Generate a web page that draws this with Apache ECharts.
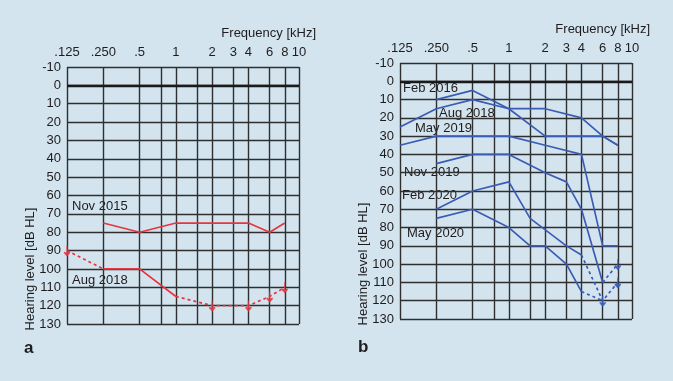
<!DOCTYPE html>
<html>
<head>
<meta charset="utf-8">
<script src="https://cdn.jsdelivr.net/npm/echarts@6/dist/echarts.min.js"></script>
<style>
  html, body { margin: 0; padding: 0; background: #d3e4ef; }
  #chart { width: 673px; height: 381px; }
</style>
</head>
<body>
<div id="chart"></div>
<script>
// frequency ticks (kHz); right edge of the grid carries the "10" label
var freqGrid = [0.125, 0.25, 0.5, 0.75, 1, 1.5, 2, 3, 4, 6, 8, 10.5];
var freqTicks = [0.125, 0.25, 0.5, 1, 2, 3, 4, 6, 8, 10.5];
var freqLabels = ['.125', '.250', '.5', '1', '2', '3', '4', '6', '8', '10'];

// panel a (red)
var nov2015 = [[0.25, 75], [0.5, 80], [1, 75], [2, 75], [4, 75], [6, 80], [8, 75]];
var aug2018a = [[0.25, 100], [0.5, 100], [1, 115]];
var aug2018aLowNR = [[0.125, 90], [0.25, 100]];
var aug2018aHighNR = [[1, 115], [2, 120], [4, 120], [6, 115], [8, 110]];
var noRespA = [[0.125, 90], [2, 120], [4, 120], [6, 115], [8, 110]];

// panel b (blue)
var feb2016 = [[0.25, 10], [0.5, 5], [1, 15], [2, 15], [4, 20], [6, 30], [8, 35]];
var aug2018b = [[0.125, 25], [0.25, 15], [0.5, 10], [1, 15], [2, 30], [4, 30], [6, 30], [8, 35]];
var may2019 = [[0.125, 35], [0.25, 30], [0.5, 30], [1, 30], [2, 35], [4, 40], [6, 90], [8, 90]];
var nov2019 = [[0.25, 45], [0.5, 40], [1, 40], [2, 50], [3, 55], [4, 70], [6, 110]];
var nov2019NR = [[6, 110], [8, 100]];
var feb2020 = [[0.25, 70], [0.5, 60], [1, 55], [1.5, 75], [3, 90], [4, 95]];
var feb2020NR = [[4, 95], [6, 120], [8, 110]];
var may2020 = [[0.25, 75], [0.5, 70], [1, 80], [1.5, 90], [2, 90], [3, 100], [4, 115]];
var may2020NR = [[4, 115], [6, 120]];
var noRespB = [[6, 120], [8, 100], [8, 110]];

var RED = '#e8343f';
var BLUE = '#3b5cb5';
var TXT = '#1e1c1d';
var GRIDC = '#2f2f2f';
var FONT = '"Liberation Sans", Arial, sans-serif';
var ARROW = 'path://M0,0 L0,9 M-3,6 L0,9 L3,6';

function xAxisFor(idx) {
  return {
    type: 'log', logBase: 2, gridIndex: idx,
    min: 0.125, max: 10.5, position: 'top',
    axisLine: { show: false },
    axisTick: { show: false, customValues: freqGrid },
    axisLabel: {
      customValues: freqTicks, margin: 8, fontSize: 13, color: TXT, fontFamily: FONT,
      formatter: function (v) {
        for (var i = 0; i < freqTicks.length; i++) {
          if (Math.abs(freqTicks[i] - v) < 1e-6) return freqLabels[i];
        }
        return '';
      }
    },
    splitLine: { show: true, lineStyle: { color: GRIDC, width: 1.4 } }
  };
}
function yAxisFor(idx) {
  return {
    type: 'value', gridIndex: idx, inverse: true,
    min: -10, max: 130, interval: 10,
    axisLine: { show: false }, axisTick: { show: false },
    axisLabel: { margin: 6, fontSize: 13, color: TXT, fontFamily: FONT },
    splitLine: { show: true, lineStyle: { color: GRIDC, width: 1.4 } }
  };
}
function solid(data, color, idx, zeroLine) {
  var s = {
    type: 'line', data: data, xAxisIndex: idx, yAxisIndex: idx,
    showSymbol: false, symbol: 'none', silent: true, animation: false,
    lineStyle: { color: color, width: 1.7 }
  };
  if (zeroLine) {
    s.markLine = {
      silent: true, symbol: 'none', label: { show: false },
      lineStyle: { color: '#1a1a1a', width: 2.3, type: 'solid' },
      data: [{ yAxis: 0 }]
    };
  }
  return s;
}
function dotted(data, color, idx) {
  return {
    type: 'line', data: data, xAxisIndex: idx, yAxisIndex: idx,
    showSymbol: false, symbol: 'none', silent: true, animation: false,
    lineStyle: { color: color, width: 1.7, type: [3, 3] }
  };
}
function arrows(data, color, idx) {
  return {
    type: 'scatter', data: data, xAxisIndex: idx, yAxisIndex: idx,
    symbol: ARROW, symbolSize: [6, 10], silent: true, animation: false,
    itemStyle: { color: color, borderColor: color, borderWidth: 1.5 }
  };
}
function txt(x, y, text, extra) {
  var st = { text: text, fill: TXT, fontSize: 13, fontFamily: FONT, align: 'left', verticalAlign: 'middle' };
  for (var k in extra) st[k] = extra[k];
  return { type: 'text', x: x, y: y, silent: true, style: st };
}

var chart = echarts.init(document.getElementById('chart'));
chart.setOption({
  backgroundColor: '#d3e4ef',
  animation: false,
  grid: [
    { left: 67, top: 67, width: 232, height: 257 },
    { left: 400, top: 63, width: 232, height: 256 }
  ],
  xAxis: [xAxisFor(0), xAxisFor(1)],
  yAxis: [yAxisFor(0), yAxisFor(1)],
  series: [
    solid(nov2015, RED, 0, true),
    solid(aug2018a, RED, 0),
    dotted(aug2018aLowNR, RED, 0),
    dotted(aug2018aHighNR, RED, 0),
    arrows(noRespA, RED, 0),

    solid(feb2016, BLUE, 1, true),
    solid(aug2018b, BLUE, 1),
    solid(may2019, BLUE, 1),
    solid(nov2019, BLUE, 1),
    dotted(nov2019NR, BLUE, 1),
    solid(feb2020, BLUE, 1),
    dotted(feb2020NR, BLUE, 1),
    solid(may2020, BLUE, 1),
    dotted(may2020NR, BLUE, 1),
    arrows(noRespB, BLUE, 1)
  ],
  graphic: [
    txt(316, 33, 'Frequency [kHz]', { align: 'right' }),
    txt(650, 29, 'Frequency [kHz]', { align: 'right' }),
    { type: 'text', x: 30, y: 269, rotation: Math.PI / 2, silent: true,
      style: { text: 'Hearing level [dB HL]', fill: TXT, fontSize: 13, fontFamily: FONT, align: 'center', verticalAlign: 'middle' } },
    { type: 'text', x: 363, y: 264, rotation: Math.PI / 2, silent: true,
      style: { text: 'Hearing level [dB HL]', fill: TXT, fontSize: 13, fontFamily: FONT, align: 'center', verticalAlign: 'middle' } },
    txt(72, 206, 'Nov 2015'),
    txt(72, 280, 'Aug 2018'),
    txt(403, 88, 'Feb 2016'),
    txt(439, 113, 'Aug 2018'),
    txt(415, 128, 'May 2019'),
    txt(404, 172, 'Nov 2019'),
    txt(402, 195, 'Feb 2020'),
    txt(407, 233, 'May 2020'),
    txt(24, 348, 'a', { fontSize: 17, fontWeight: 'bold' }),
    txt(358, 347, 'b', { fontSize: 17, fontWeight: 'bold' })
  ]
});
</script>
</body>
</html>
